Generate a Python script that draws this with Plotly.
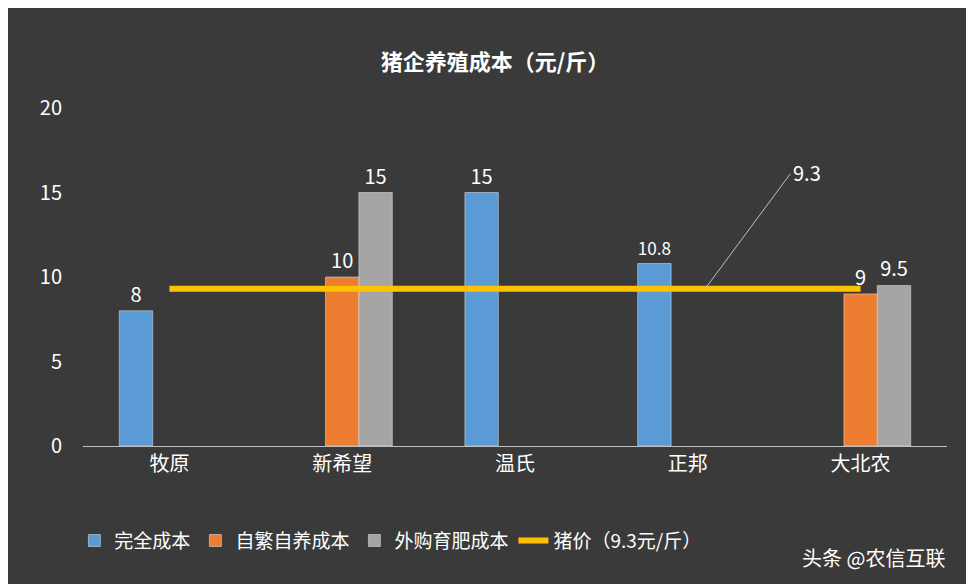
import plotly.graph_objects as go

companies = ["牧原", "新希望", "温氏", "正邦", "大北农"]
full_cost = [8, None, 15, 10.8, None]
self_breed_cost = [None, 10, None, None, 9]
bought_cost = [None, 15, None, None, 9.5]
pig_price = [9.3] * 5

FONT = "Noto Sans CJK SC"
label_font = dict(color="white", size=20)

fig = go.Figure()
fig.add_trace(go.Bar(x=companies, y=full_cost, name="完全成本", marker_color="#5b9bd5",
                     text=full_cost, textposition="outside", textfont=label_font, cliponaxis=False))
fig.add_trace(go.Bar(x=companies, y=self_breed_cost, name="自繁自养成本", marker_color="#ed7d31",
                     text=self_breed_cost, textposition="outside", textfont=label_font, cliponaxis=False))
fig.add_trace(go.Bar(x=companies, y=bought_cost, name="外购育肥成本", marker_color="#a5a5a5",
                     text=bought_cost, textposition="outside", textfont=label_font, cliponaxis=False))
fig.add_trace(go.Scatter(x=companies, y=pig_price, name="猪价（9.3元/斤）", mode="lines",
                         line=dict(color="#ffc000", width=6)))

# leader line to the price label
fig.add_annotation(x=3.1, y=9.3, ax=3.6, ay=16.2, axref="x", ayref="y",
                   text="", showarrow=True, arrowhead=0, arrowcolor="#bfbfbf", arrowwidth=1)
fig.add_annotation(x=3.6, y=16.2, text="9.3", showarrow=False, xanchor="left",
                   font=label_font)

fig.add_annotation(x=1.0, y=-0.33, xref="paper", yref="paper", xanchor="right", yanchor="middle",
                   text="头条 @农信互联", showarrow=False, font=dict(color="white", size=20))

fig.update_layout(
    width=974, height=584,
    paper_bgcolor="#3a3a3a", plot_bgcolor="#3a3a3a",
    font=dict(family=FONT, color="white", size=18),
    title=dict(text="<b>猪企养殖成本（元/斤）</b>", x=0.5, y=0.92, font=dict(size=22)),
    margin=dict(l=75, r=35, t=100, b=146),
    bargap=0.42, bargroupgap=0, uniformtext=dict(minsize=20),
    xaxis=dict(showgrid=False, showline=True, linecolor="#bfbfbf", tickfont=dict(size=20)),
    yaxis=dict(range=[0, 20], dtick=5, showgrid=False, zeroline=False,
               tickfont=dict(size=20), ticklabelstandoff=20),
    legend=dict(orientation="h", x=-0.01, y=-0.28, yanchor="middle", font=dict(size=19),
                traceorder="normal"),
)

fig.write_html("out.html")
